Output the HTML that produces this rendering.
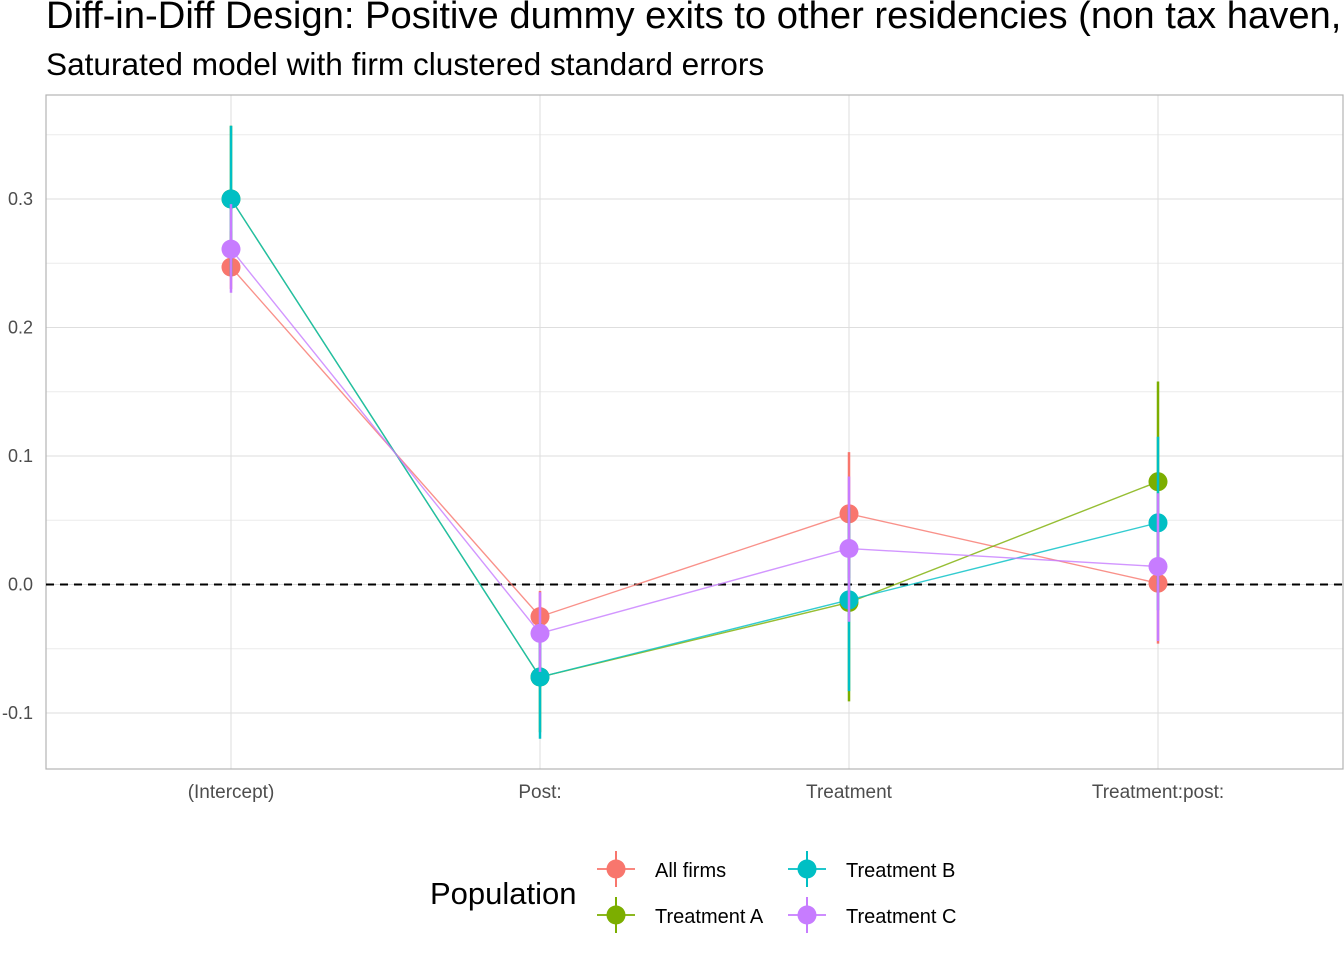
<!DOCTYPE html>
<html><head><meta charset="utf-8"><style>
body{margin:0;background:#fff;width:1344px;height:960px;overflow:hidden;font-family:"Liberation Sans",sans-serif;}
</style></head><body>
<svg id="chart" width="1344" height="960">
<text x="46" y="28" font-size="38.2" fill="#000">Diff-in-Diff Design: Positive dummy exits to other residencies (non tax haven, non EU)</text>
<text x="46" y="75" font-size="31.6" fill="#000">Saturated model with firm clustered standard errors</text>
<g id="grid"></g><g id="marks"></g><g id="legend"></g>
</svg>
<script>
const categories=["(Intercept)","Post:","Treatment","Treatment:post:"];
const seriesNames=["All firms","Treatment A","Treatment B","Treatment C"];
const seriesColors=["#F8766D","#7CAE00","#00BFC4","#C77CFF"];
const allFirms=[0.247,-0.025,0.055,0.001];
const allFirmsLo=[0.23,-0.045,0.005,-0.046];
const allFirmsHi=[0.275,-0.005,0.103,0.05];
const treatA=[0.300,-0.072,-0.014,0.080];
const treatALo=[0.24,-0.115,-0.091,0.0];
const treatAHi=[0.357,-0.03,0.06,0.158];
const treatB=[0.300,-0.072,-0.012,0.048];
const treatBLo=[0.24,-0.12,-0.083,-0.02];
const treatBHi=[0.357,-0.03,0.06,0.115];
const treatC=[0.261,-0.038,0.028,0.014];
const treatCLo=[0.227,-0.068,-0.029,-0.044];
const treatCHi=[0.296,-0.006,0.084,0.071];
const yTicks=[-0.1,0.0,0.1,0.2,0.3];
const yTickLabels=["-0.1","0.0","0.1","0.2","0.3"];

const NS="http://www.w3.org/2000/svg";
const PL=46,PR=1343,PT=95,PB=769;
function xs(i){return 231+i*309;}
function ys(v){return 584.5-v*1285;}
function mk(tag,attrs,parent){const e=document.createElementNS(NS,tag);for(const k in attrs)e.setAttribute(k,attrs[k]);parent.appendChild(e);return e;}
const grid=document.getElementById('grid'),marks=document.getElementById('marks'),leg=document.getElementById('legend');
for(let v=-0.15;v<=0.36;v+=0.1){const y=ys(v);if(y>PT&&y<PB)mk('line',{x1:PL,x2:PR,y1:y,y2:y,stroke:'#ebebeb','stroke-width':1},grid);}
yTicks.forEach((v,i)=>{const y=ys(v);
const l=mk('line',{x1:PL,x2:PR,y1:y,y2:y,stroke:'#dedede','stroke-width':1},grid);


const t=mk('text',{x:33,y:y+6,'font-size':18,fill:'#4d4d4d','text-anchor':'end'},grid);t.textContent=yTickLabels[i];

});
categories.forEach((c,i)=>{const x=xs(i);
const l=mk('line',{x1:x,x2:x,y1:PT,y2:PB,stroke:'#dedede','stroke-width':1},grid);


const t=mk('text',{x:x,y:798,'font-size':19,fill:'#4d4d4d','text-anchor':'middle'},grid);t.textContent=c;

});
const fr=mk('rect',{x:PL,y:PT,width:PR-PL,height:PB-PT,fill:'none',stroke:'#b3b3b3','stroke-width':1.2},grid);


const zl=mk('line',{x1:PL,x2:PR,y1:ys(0),y2:ys(0),stroke:'#000','stroke-width':2,'stroke-dasharray':'8,6'},grid);



const series=[[allFirms,allFirmsLo,allFirmsHi],[treatA,treatALo,treatAHi],[treatB,treatBLo,treatBHi],[treatC,treatCLo,treatCHi]];
series.forEach((s,k)=>{const col=seriesColors[k];
const g=mk('g',{},marks);


const pts=s[0].map((v,i)=>xs(i)+','+ys(v)).join(' ');
const pl=mk('polyline',{points:pts,fill:'none',stroke:col,'stroke-width':1.4,'stroke-opacity':0.8},g);


s[0].forEach((v,i)=>{
const e=mk('line',{x1:xs(i),x2:xs(i),y1:ys(s[1][i]),y2:ys(s[2][i]),stroke:col,'stroke-width':2.5},g);


const c=mk('circle',{cx:xs(i),cy:ys(v),r:9.5,fill:col},g);

});
});

const lt=mk('text',{x:430,y:904,'font-size':31,fill:'#000'},leg);lt.textContent='Population';


const pos=[[616,869],[616,915],[807,869],[807,915]];
seriesNames.forEach((n,k)=>{const [x,y]=pos[k];const col=seriesColors[k];
const g=mk('g',{},leg);


mk('line',{x1:x-19,x2:x+19,y1:y,y2:y,stroke:col,'stroke-width':1.8},g);
mk('line',{x1:x,x2:x,y1:y-18,y2:y+18,stroke:col,'stroke-width':2},g);
mk('circle',{cx:x,cy:y,r:9.5,fill:col},g);
const t=mk('text',{x:x+39,y:y+8,'font-size':20,fill:'#000'},g);t.textContent=n;});
</script>
</body></html>
